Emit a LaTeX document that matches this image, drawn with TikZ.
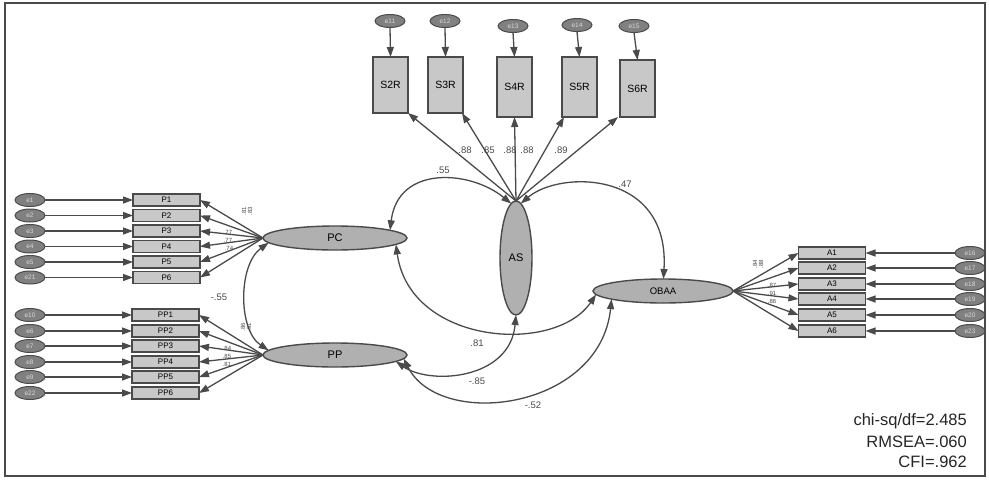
\documentclass[tikz,border=0pt]{standalone}
\usepackage{fontspec}
\setmainfont{Liberation Sans}
\usetikzlibrary{shapes.geometric,arrows.meta}
\definecolor{ln}{HTML}{4A4A4A}
\definecolor{boxfill}{HTML}{C8C8C8}
\definecolor{latfill}{HTML}{B0B0B0}
\definecolor{errfill}{HTML}{808080}
\begin{document}
\begin{tikzpicture}[x=1pt,y=-1pt,
  obs/.style={draw=ln, fill=boxfill, line width=1.4pt, inner sep=0pt, outer sep=0pt},
  pbox/.style={obs, minimum width=67pt, minimum height=12pt, font=\fontsize{8}{8}\selectfont},
  sbox/.style={obs, minimum width=35pt, font=\fontsize{10.5}{10.5}\selectfont},
  lat/.style={ellipse, draw=ln, fill=latfill, line width=1.4pt, inner sep=0pt, outer sep=0pt},
  err/.style={ellipse, draw=ln, fill=errfill, line width=1pt, minimum width=30pt, minimum height=13pt, inner sep=0pt, outer sep=0pt, font=\fontsize{6.5}{6.5}\selectfont, text=white!85!black},
  arr/.style={draw=ln, line width=1.3pt, -{Triangle[length=10pt,width=7pt]}},
  dbl/.style={draw=ln, line width=1.3pt, {Triangle[length=10pt,width=7pt]}-{Triangle[length=10pt,width=7pt]}},
  lbl/.style={font=\fontsize{9.5}{9.5}\selectfont, text=ln, inner sep=0pt},
  tiny/.style={font=\fontsize{6}{6}\selectfont, text=ln, inner sep=0pt},
  fit/.style={font=\fontsize{16.5}{16.5}\selectfont, text=black!85, inner sep=0pt, anchor=east}
]
\useasboundingbox (0,0) rectangle (989,480);
\fill[white] (0,0) rectangle (989,480);
\draw[ln, line width=2pt] (5,3) rectangle (985,476);

% latent variables
\node[lat, minimum width=32pt, minimum height=114pt, font=\fontsize{11}{11}\selectfont] (AS) at (516,258) {AS};
\node[lat, minimum width=144pt, minimum height=24pt, font=\fontsize{11}{11}\selectfont] (PC) at (335,238) {PC};
\node[lat, minimum width=144pt, minimum height=24pt, font=\fontsize{11}{11}\selectfont] (PP) at (335,355) {PP};
\node[lat, minimum width=140pt, minimum height=24pt, font=\fontsize{9.5}{9.5}\selectfont] (OBAA) at (663,291) {OBAA};

% top indicators
\node[sbox, minimum height=56pt] (S2R) at (390.5,85) {S2R};
\node[sbox, minimum height=56pt] (S3R) at (445.5,85) {S3R};
\node[sbox, minimum height=60pt] (S4R) at (514.5,87) {S4R};
\node[sbox, minimum height=60pt] (S5R) at (579.5,87) {S5R};
\node[sbox, minimum height=57pt] (S6R) at (637.5,88.5) {S6R};
\node[err] (e11) at (390,21) {e11};
\node[err] (e12) at (445,21) {e12};
\node[err] (e13) at (513,26) {e13};
\node[err] (e14) at (577,25) {e14};
\node[err] (e15) at (634,26) {e15};
\foreach \e/\s in {e11/S2R,e12/S3R,e13/S4R,e14/S5R,e15/S6R}
  \draw[arr] (\e.south) -- (\s.north);
\draw[arr] (AS.north) -- (S2R.south east);
\draw[arr] (AS.north) -- ([xshift=-1pt]S3R.south east);
\draw[arr] (AS.north) -- (S4R.south);
\draw[arr] (AS.north) -- ([xshift=2pt]S5R.south west);
\draw[arr] (AS.north) -- ([xshift=-2pt]S6R.south west);
\node[lbl] (l1) at (465,150) {.88};
\node[lbl] (l2) at (488,150) {.85};
\node[lbl] (l3) at (510,150) {.88};
\node[lbl] (l4) at (527,150) {.88};
\node[lbl] (l5) at (561,150) {.89};

% PC indicators
\foreach \n/\y/\e in {1/200/e1,2/215.5/e2,3/231/e3,4/246.5/e4,5/262/e5,6/277.5/e21}{
  \node[pbox] (P\n) at (166.5,\y) {P\n};
  \node[err] (eP\n) at (30,\y) {\e};
  \draw[arr] (eP\n.east) -- (P\n.west);
  \draw[arr] (PC.west) -- (P\n.east);
}
% PP indicators
\foreach \n/\y/\e in {1/315/e10,2/331/e6,3/346/e7,4/362/e8,5/377/e9,6/393/e22}{
  \node[pbox] (PP\n) at (165.5,\y) {PP\n};
  \node[err] (ePP\n) at (30,\y) {\e};
  \draw[arr] (ePP\n.east) -- (PP\n.west);
  \draw[arr] (PP.west) -- (PP\n.east);
}
% OBAA indicators
\foreach \n/\y/\e in {1/253/e16,2/268/e17,3/284/e18,4/299/e19,5/315/e20,6/331/e23}{
  \node[pbox] (A\n) at (832,\y) {A\n};
  \node[err] (eA\n) at (970,\y) {\e};
  \draw[arr] (eA\n.west) -- (A\n.east);
  \draw[arr] (OBAA.east) -- (A\n.west);
}

% small loading labels
\node[tiny, rotate=90] (pl1) at (244,211) {.81};
\node[tiny, rotate=90] (pl2) at (250,211) {.83};
\node[tiny] (pl3) at (228,232) {.77};
\node[tiny] (pl4) at (228,240) {.77};
\node[tiny] (pl5) at (229,248) {.74};
\node[tiny, rotate=90] (ql1) at (243,327) {.86};
\node[tiny, rotate=90] (ql2) at (249,327) {.91};
\node[tiny] (ql3) at (227,348) {.84};
\node[tiny] (ql4) at (227,356) {.85};
\node[tiny] (ql5) at (227,364) {.81};
\node[tiny, rotate=90] (al1) at (755,264) {.84};
\node[tiny, rotate=90] (al2) at (761,264) {.88};
\node[tiny] (al3) at (772,285) {.87};
\node[tiny] (al4) at (772,293) {.91};
\node[tiny] (al5) at (772,301) {.86};

% correlations
\draw[dbl] (AS.95) .. controls (470,170) and (398,165) .. (PC.8);
\draw[dbl] (AS.85) .. controls (560,170) and (670,170) .. (OBAA.88);
\draw[dbl] (PC.184) .. controls (238,265) and (238,330) .. (PP.176);
\draw[dbl] (PC.-6) .. controls (410,345) and (555,355) .. (OBAA.183);
\draw[dbl] (PP.-6) .. controls (430,385) and (510,380) .. (AS.south);
\draw[dbl] (PP.-3) .. controls (440,430) and (600,410) .. (OBAA.189);
\node[lbl] (c1) at (443,170) {.55};
\node[lbl] (c2) at (625,184) {.47};
\node[lbl] (c3) at (219,297) {-.55};
\node[lbl] (c4) at (477,343) {.81};
\node[lbl] (c5) at (477,381) {-.85};
\node[lbl] (c6) at (533,405) {-.52};

% fit indices
\node[fit] (f1) at (967,421) {chi-sq/df=2.485};
\node[fit] (f2) at (967,441.5) {RMSEA=.060};
\node[fit] (f3) at (967,462) {CFI=.962};
\end{tikzpicture}
\end{document}
